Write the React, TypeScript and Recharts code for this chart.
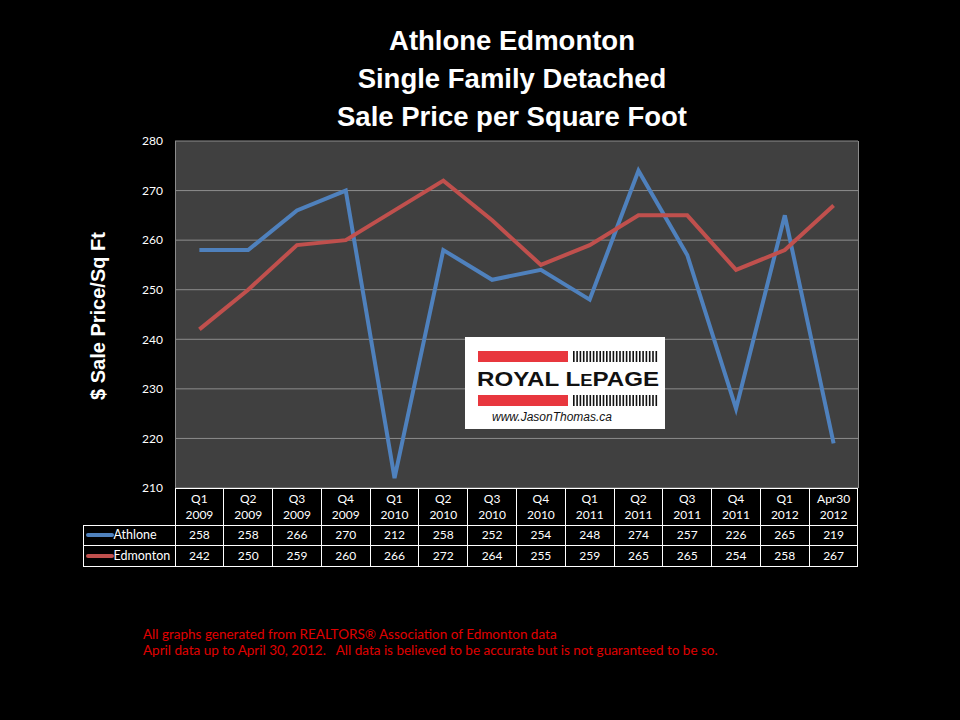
import React from "react";
import { LineChart, Line, XAxis, YAxis, CartesianGrid } from "recharts";

const periods = ["Q1 2009", "Q2 2009", "Q3 2009", "Q4 2009", "Q1 2010", "Q2 2010", "Q3 2010", "Q4 2010", "Q1 2011", "Q2 2011", "Q3 2011", "Q4 2011", "Q1 2012", "Apr30 2012"];
const athlone = [258, 258, 266, 270, 212, 258, 252, 254, 248, 274, 257, 226, 265, 219];
const edmonton = [242, 250, 259, 260, 266, 272, 264, 255, 259, 265, 265, 254, 258, 267];
const yTicks = [210, 220, 230, 240, 250, 260, 270, 280];

const titleLines = ["Athlone Edmonton", "Single Family Detached", "Sale Price per Square Foot"];
const footnotes = [
  "All graphs generated from REALTORS® Association of Edmonton data",
  "April data up to April 30, 2012.   All data is believed to be accurate but is not guaranteed to be so.",
];

const BLUE = "#4F81BD";
const RED = "#C0504D";

const series = [
  { name: "Athlone", values: athlone, color: BLUE },
  { name: "Edmonton", values: edmonton, color: RED },
];

const data = periods.map((p, i) => ({ period: p, athlone: athlone[i], edmonton: edmonton[i] }));

const PLOT_L = 175;
const PLOT_R = 858;
const PLOT_T = 141;
const PLOT_B = 488;
const COL_W = (PLOT_R - PLOT_L) / periods.length;
const TABLE_L = 83;
const HEAD_H = 37;
const ROW_H = 20.5;
const smallFont = "Lato, 'Open Sans', sans-serif";

function Logo() {
  const stripes = Array.from({ length: 26 }, (_, i) => i);
  return (
    <svg width={200} height={92} style={{ position: "absolute", left: 465, top: 337 }}>
      <rect x={0} y={0} width={200} height={92} fill="#fff" />
      <rect x={13} y={14} width={90} height={11} fill="#E8373E" />
      <rect x={13} y={58} width={90} height={11} fill="#E8373E" />
      {stripes.map((i) => (
        <g key={i}>
          <rect x={108 + i * 3.3} y={14} width={1.6} height={11} fill="#111" />
          <rect x={108 + i * 3.3} y={58} width={1.6} height={11} fill="#111" />
        </g>
      ))}
      <text x={12} y={49} fontFamily="'Liberation Sans', Arial, sans-serif" fontWeight="bold" fontSize={21} fill="#111" textLength={182} lengthAdjust="spacingAndGlyphs">
        ROYAL L<tspan fontSize={16}>E</tspan>PAGE
      </text>
      <text x={27} y={84} fontFamily="'Liberation Sans', Arial, sans-serif" fontStyle="italic" fontSize={12} fill="#111">
        www.JasonThomas.ca
      </text>
    </svg>
  );
}

function Cell(props: { left: number; top: number; width: number; height: number; children?: React.ReactNode; align?: "left" | "center" }) {
  return (
    <div
      style={{
        position: "absolute",
        left: props.left,
        top: props.top,
        width: props.width,
        height: props.height,
        boxSizing: "border-box",
        border: "1px solid #fff",
        marginLeft: -0.5,
        marginTop: -0.5,
        color: "#fff",
        fontFamily: smallFont,
        fontSize: 12,
        display: "flex",
        flexDirection: "column",
        alignItems: props.align === "left" ? "flex-start" : "center",
        justifyContent: "center",
        lineHeight: "16px",
        whiteSpace: "nowrap",
      }}
    >
      {props.children}
    </div>
  );
}

function DataTable() {
  return (
    <>
      {periods.map((p, i) => {
        const [a, b] = p.split(" ");
        return (
          <Cell key={p} left={PLOT_L + i * COL_W} top={PLOT_B} width={COL_W + 1} height={HEAD_H + 1}>
            <span>{a}</span>
            <span>{b}</span>
          </Cell>
        );
      })}
      {series.map((s, r) => {
        const top = PLOT_B + HEAD_H + r * ROW_H;
        return (
          <React.Fragment key={s.name}>
            <Cell left={TABLE_L} top={top} width={PLOT_L - TABLE_L + 1} height={ROW_H + 1} align="left">
              <div style={{ display: "flex", alignItems: "center" }}>
                <span style={{ display: "inline-block", width: 28, height: 4, borderRadius: 2, background: s.color, marginLeft: 2 }} />
                <span style={{ fontSize: 12.5 }}>{s.name}</span>
              </div>
            </Cell>
            {s.values.map((v, i) => (
              <Cell key={i} left={PLOT_L + i * COL_W} top={top} width={COL_W + 1} height={ROW_H + 1}>
                {v}
              </Cell>
            ))}
          </React.Fragment>
        );
      })}
    </>
  );
}

export default function App() {
  return (
    <div style={{ position: "absolute", left: 0, top: 0, width: 960, height: 720, background: "#000", overflow: "hidden" }}>
      {titleLines.map((t, i) => (
        <div
          key={t}
          style={{
            position: "absolute",
            left: 0,
            width: 1024,
            top: 24 + i * 38,
            textAlign: "center",
            color: "#fff",
            fontFamily: "'Liberation Sans', Arial, sans-serif",
            fontWeight: "bold",
            fontSize: 27.5,
            lineHeight: "34px",
          }}
        >
          {t}
        </div>
      ))}
      <LineChart
        width={960}
        height={720}
        data={data}
        margin={{ top: PLOT_T, left: PLOT_L - 60, right: 960 - PLOT_R, bottom: 720 - PLOT_B }}
        style={{ position: "absolute", left: 0, top: 0 }}
      >
        <CartesianGrid vertical={false} stroke="#8c8c8c" fill="#404040" />
        <XAxis dataKey="period" hide padding={{ left: COL_W / 2, right: COL_W / 2 }} />
        <YAxis
          width={60}
          domain={[210, 280]}
          ticks={yTicks}
          tickLine={false}
          axisLine={false}
          tickSize={0}
          tickMargin={12}
          tick={{ fill: "#fff", fontSize: 12, fontFamily: smallFont }}
        />
        <Line dataKey="athlone" stroke={BLUE} strokeWidth={4} dot={false} isAnimationActive={false} />
        <Line dataKey="edmonton" stroke={RED} strokeWidth={4} dot={false} isAnimationActive={false} />
      </LineChart>
      <div
        style={{
          position: "absolute",
          left: PLOT_L,
          top: PLOT_T,
          width: PLOT_R - PLOT_L - 1,
          height: PLOT_B - PLOT_T,
          borderLeft: "1px solid #8c8c8c",
          borderRight: "1px solid #8c8c8c",
          pointerEvents: "none",
        }}
      />
      <div
        style={{
          position: "absolute",
          left: 98 - 100,
          top: 316 - 12,
          width: 200,
          height: 24,
          transform: "rotate(-90deg)",
          textAlign: "center",
          color: "#fff",
          fontFamily: "'Liberation Sans', Arial, sans-serif",
          fontWeight: "bold",
          fontSize: 20,
          lineHeight: "24px",
          whiteSpace: "nowrap",
        }}
      >
        $ Sale Price/Sq Ft
      </div>
      <Logo />
      <DataTable />
      {footnotes.map((f, i) => (
        <div
          key={i}
          style={{
            position: "absolute",
            left: 143,
            top: 626 + i * 16,
            color: "#e00000",
            fontFamily: smallFont,
            fontSize: 13.5,
            lineHeight: "16px",
            whiteSpace: "pre",
          }}
        >
          {f}
        </div>
      ))}
    </div>
  );
}
